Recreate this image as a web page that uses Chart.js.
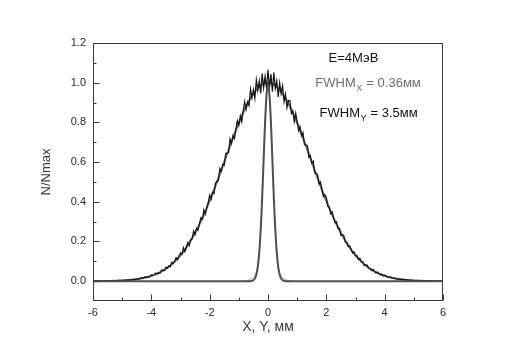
<!DOCTYPE html>
<html><head><meta charset="utf-8">
<script src="https://cdn.jsdelivr.net/npm/chart.js@4"></script>
<style>html,body{margin:0;padding:0;background:#fff;}canvas{display:block;}</style>
</head><body>
<canvas id="c" width="516" height="361"></canvas>
<script>
// ---------- data ----------
const xTicks = [-6, -4, -2, 0, 2, 4, 6];
const xMinorTicks = [-5, -3, -1, 1, 3, 5];
const yTicks = [0.0, 0.2, 0.4, 0.6, 0.8, 1.0, 1.2];
const yMinorTicks = [0.1, 0.3, 0.5, 0.7, 0.9, 1.1];

// broad measured profile (FWHM_Y), sampled every 0.05 mm from -6 mm
const broadStart = -6, broadStep = 0.05;
const broadY = [
0.000,0.001,0.000,0.001,0.000,0.001,0.001,0.000,0.001,0.001,
0.002,0.001,0.002,0.001,0.002,0.002,0.003,0.002,0.004,0.003,
0.004,0.003,0.005,0.004,0.006,0.005,0.007,0.006,0.009,0.008,
0.012,0.010,0.013,0.017,0.013,0.018,0.022,0.018,0.023,0.022,
0.032,0.028,0.034,0.041,0.035,0.043,0.041,0.056,0.054,0.053,
0.071,0.066,0.077,0.073,0.095,0.089,0.101,0.118,0.108,0.128,
0.142,0.135,0.169,0.149,0.172,0.195,0.180,0.210,0.214,0.253,
0.235,0.267,0.256,0.290,0.320,0.312,0.359,0.337,0.370,0.397,
0.434,0.413,0.447,0.441,0.494,0.502,0.508,0.568,0.554,0.589,
0.583,0.643,0.646,0.648,0.717,0.694,0.734,0.719,0.766,0.809,
0.785,0.833,0.802,0.859,0.905,0.865,0.903,0.884,0.967,0.924,
0.965,0.920,1.014,0.961,1.010,0.946,1.046,0.975,1.033,0.970,
1.065,
0.975,1.043,0.955,1.051,0.971,1.010,0.928,0.999,0.945,0.985,
0.904,0.942,0.874,0.910,0.910,0.845,0.859,0.804,0.847,0.802,
0.757,0.778,0.733,0.748,0.687,0.686,0.684,0.624,0.633,0.595,
0.605,0.546,0.543,0.536,0.490,0.500,0.457,0.427,0.435,0.422,
0.376,0.374,0.339,0.349,0.320,0.294,0.299,0.266,0.267,0.231,
0.235,0.230,0.196,0.196,0.174,0.179,0.161,0.142,0.147,0.127,
0.128,0.109,0.115,0.097,0.097,0.079,0.082,0.081,0.065,0.065,
0.053,0.059,0.050,0.041,0.046,0.040,0.032,0.036,0.027,0.030,
0.026,0.019,0.022,0.021,0.015,0.016,0.016,0.011,0.012,0.010,
0.008,0.010,0.008,0.006,0.007,0.005,0.004,0.005,0.004,0.003,
0.003,0.003,0.002,0.002,0.002,0.001,0.002,0.001,0.001,0.001,
0.001,0.000,0.001,0.000,0.001,0.000,0.000,0.001,0.000,0.000
];

// smooth fit of the broad profile, every 0.2 mm from -6 mm
const fitStart = -6, fitStep = 0.2;
const fitY = [
0.0003,0.0005,0.0008,0.0014,0.0022,0.0035,0.0054,0.0083,0.0125,0.0184,
0.0267,0.038,0.053,0.073,0.0985,0.130,0.169,0.216,0.271,0.334,
0.404,0.480,0.560,0.642,0.722,0.797,0.865,0.922,0.964,0.991,
1.000,
0.991,0.964,0.922,0.865,0.797,0.722,0.642,0.560,0.480,0.404,
0.334,0.271,0.216,0.169,0.130,0.0985,0.073,0.053,0.038,0.0267,
0.0184,0.0125,0.0083,0.0054,0.0035,0.0022,0.0014,0.0008,0.0005,0.0003
];

// narrow profile (FWHM_X) curve
const narrowX = [-6,
-0.600,-0.575,-0.550,-0.525,-0.500,-0.475,-0.450,-0.425,-0.400,-0.375,
-0.350,-0.325,-0.300,-0.275,-0.250,-0.225,-0.200,-0.175,-0.150,-0.125,
-0.100,-0.075,-0.050,-0.025,0.000,0.025,0.050,0.075,0.100,0.125,
0.150,0.175,0.200,0.225,0.250,0.275,0.300,0.325,0.350,0.375,
0.400,0.425,0.450,0.475,0.500,0.525,0.550,0.575,0.600,
6];
const narrowY = [0,
0.000,0.001,0.002,0.003,0.005,0.008,0.013,0.021,0.032,0.049,
0.072,0.104,0.145,0.197,0.260,0.336,0.421,0.515,0.612,0.709,
0.800,0.878,0.939,0.977,0.990,0.977,0.939,0.878,0.800,0.709,
0.612,0.515,0.421,0.336,0.260,0.197,0.145,0.104,0.072,0.049,
0.032,0.021,0.013,0.008,0.005,0.003,0.002,0.001,0.000,
0];

// narrow measured points (light grey)
const narrowDataX = [-0.80,-0.75,-0.70,-0.65,-0.60,-0.55,-0.50,-0.45,-0.40,-0.35,-0.30,-0.25,-0.20,-0.15,-0.10,-0.05,
0.00,0.05,0.10,0.15,0.20,0.25,0.30,0.35,0.40,0.45,0.50,0.55,0.60,0.65,0.70,0.75,0.80];
const narrowDataY = [0.000,0.002,0.004,0.006,0.010,0.014,0.020,0.030,0.045,0.080,0.150,0.258,0.420,0.615,0.800,0.945,
1.000,0.935,0.805,0.610,0.418,0.262,0.148,0.078,0.042,0.028,0.018,0.012,0.008,0.005,0.003,0.001,0.000];

// annotation texts
const noteMain = ['E=4МэВ', 'FWHM', 'FWHM'];
const noteSub = ['', 'X', 'Y'];
const noteTail = ['', ' = 0.36мм', ' = 3.5мм'];
const noteX = [2.93, 3.43, 3.45];
const noteY = [1.121, 0.998, 0.847];
const noteColor = ['#111111', '#6e6e6e', '#111111'];

const xTitle = 'X, Y, мм';
const yTitle = 'N/Nmax';

// ---------- build ----------
const FONT = '"Liberation Sans", Arial, sans-serif';
const broadPts = broadY.map((v, i) => ({x: broadStart + i * broadStep, y: v}));
const fitPts = fitY.map((v, i) => ({x: fitStart + i * fitStep, y: v}));
const narrowPts = narrowY.map((v, i) => ({x: narrowX[i], y: v}));
const narrowDataPts = narrowDataY.map((v, i) => ({x: narrowDataX[i], y: v}));

const framePlugin = {
  id: 'frame',
  afterDatasetsDraw(chart) {
    const {ctx, chartArea: a, scales: {x, y}} = chart;
    ctx.save();
    ctx.strokeStyle = '#3a3a3a';
    ctx.lineWidth = 1;
    ctx.strokeRect(Math.round(a.left) + 0.5, Math.round(a.top) + 0.5,
      Math.round(a.right - a.left) - 1, Math.round(a.bottom - a.top) - 1);
    ctx.beginPath();
    const yb = Math.round(a.bottom) - 0.5, xl = Math.round(a.left) + 0.5;
    xTicks.forEach(t => { const p = Math.round(x.getPixelForValue(t)) + 0.5; ctx.moveTo(p, yb); ctx.lineTo(p, yb - 6); });
    xMinorTicks.forEach(t => { const p = Math.round(x.getPixelForValue(t)) + 0.5; ctx.moveTo(p, yb); ctx.lineTo(p, yb - 3); });
    yTicks.forEach(t => { const p = Math.round(y.getPixelForValue(t)) + 0.5; ctx.moveTo(xl, p); ctx.lineTo(xl + 6, p); });
    yMinorTicks.forEach(t => { const p = Math.round(y.getPixelForValue(t)) + 0.5; ctx.moveTo(xl, p); ctx.lineTo(xl + 3, p); });
    ctx.stroke();
    // annotations
    ctx.textBaseline = 'middle';
    noteMain.forEach((m, i) => {
      const fMain = '13px ' + FONT, fSub = '9px ' + FONT;
      ctx.font = fMain; const wm = ctx.measureText(m).width;
      const wt = ctx.measureText(noteTail[i]).width;
      ctx.font = fSub; const ws = noteSub[i] ? ctx.measureText(noteSub[i]).width + 1 : 0;
      const total = wm + ws + wt;
      let px = x.getPixelForValue(noteX[i]) - total / 2;
      const py = y.getPixelForValue(noteY[i]);
      ctx.fillStyle = noteColor[i];
      ctx.textAlign = 'left';
      ctx.font = fMain; ctx.fillText(m, px, py); px += wm;
      if (noteSub[i]) { ctx.font = fSub; ctx.fillText(noteSub[i], px + 0.5, py + 5); px += ws; }
      ctx.font = fMain; ctx.fillText(noteTail[i], px, py);
    });
    ctx.restore();
  }
};

new Chart(document.getElementById('c'), {
  type: 'line',
  data: {
    datasets: [
      {data: narrowPts, borderColor: '#505050', borderWidth: 2, pointRadius: 0, tension: 0.3, order: 0},
      {data: broadPts, borderColor: '#141414', borderWidth: 1.2, pointRadius: 0, tension: 0, order: 1},
      {data: fitPts, borderColor: '#6a6a6a', borderWidth: 2, pointRadius: 0, tension: 0.3, order: 2},
      {data: narrowDataPts, borderColor: '#b0b0b0', borderWidth: 1, pointRadius: 0, tension: 0, order: 3}
    ]
  },
  options: {
    responsive: false,
    animation: false,
    events: [],
    layout: {padding: {top: 43, right: 73, left: 0, bottom: 0}},
    plugins: {legend: {display: false}, tooltip: {enabled: false}},
    scales: {
      x: {
        type: 'linear', min: -6, max: 6,
        afterBuildTicks: s => { s.ticks = xTicks.map(v => ({value: v})); },
        afterFit: s => { s.height = 60; },
        grid: {display: false, drawTicks: false},
        border: {display: false},
        ticks: {padding: 5, color: '#2a2a2a', font: {family: FONT, size: 11}, maxRotation: 0,
          callback: v => String(v)},
        title: {display: true, text: xTitle, color: '#3a3a3a', font: {family: FONT, size: 14}, padding: {top: 0, bottom: 25}}
      },
      y: {
        type: 'linear', min: -0.1, max: 1.2,
        afterBuildTicks: s => { s.ticks = yTicks.map(v => ({value: v})); },
        afterFit: s => { s.width = 93; },
        grid: {display: false, drawTicks: false},
        border: {display: false},
        ticks: {padding: 7, color: '#2a2a2a', font: {family: FONT, size: 11},
          callback: v => Number(v).toFixed(1)},
        title: {display: true, text: yTitle, color: '#3a3a3a', font: {family: FONT, size: 13}, padding: {top: 39, bottom: 0}}
      }
    }
  },
  plugins: [framePlugin]
});
</script>
</body></html>
